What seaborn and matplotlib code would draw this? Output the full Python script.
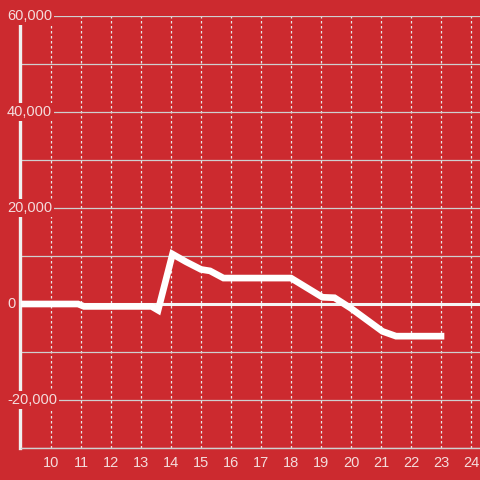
import numpy as np
import pandas as pd
import matplotlib
matplotlib.use('Agg')
import matplotlib.pyplot as plt
from matplotlib.ticker import MultipleLocator, FixedLocator
import seaborn as sns

# 数据
hours = [9.0, 10.9, 11.1, 13.35, 13.57, 14.05, 14.5, 15.0, 15.3, 15.75,
         18.0, 19.05, 19.45, 20.0, 21.05, 21.5, 23.0]
values = [0, 0, -500, -500, -1300, 10400, 8800, 7200, 6900, 5400,
          5400, 1400, 1300, -900, -5700, -6700, -6700]

y_ticks = [-20000, 0, 20000, 40000, 60000]
x_ticks = list(range(10, 25))

bg = '#cc2a2f'
txt = '#f4dcdc'

sns.set_style('white')
plt.rcParams['font.family'] = ['Liberation Sans', 'DejaVu Sans']

df = pd.DataFrame({'hour': hours, 'value': values})

fig = plt.figure(figsize=(4.8, 4.8), dpi=100, facecolor=bg)
ax = fig.add_axes([21 / 480, 32 / 480, 459 / 480, 432 / 480])
ax.set_facecolor(bg)

sns.lineplot(data=df, x='hour', y='value', ax=ax, color='white',
             linewidth=4.8, solid_joinstyle='miter',
             solid_capstyle='projecting', zorder=4)

ax.axhline(0, color='#f5f5f5', lw=2.2, zorder=3)

ax.set_xlim(9, 24.3)
ax.set_ylim(-30000, 60000)

# 横向网格每 10000 一条，竖向虚线每小时
ax.yaxis.set_major_locator(MultipleLocator(10000))
ax.xaxis.set_major_locator(FixedLocator(x_ticks))
ax.grid(axis='y', color='#cfcfcf', lw=0.9, ls='-')
ax.grid(axis='x', color='#e8e8e8', lw=0.9, ls=(0, (2, 2)))
ax.set_yticklabels([])
ax.tick_params(axis='y', length=0)
ax.tick_params(axis='x', length=0, pad=6, labelsize=10.5, labelcolor=txt)
ax.set_xticklabels([str(t) for t in x_ticks])

for s in ['top', 'right']:
    ax.spines[s].set_visible(False)
ax.spines['bottom'].set_color('#d0d0d0')
ax.spines['bottom'].set_linewidth(1.0)
ax.spines['left'].set_color('#f0f0f0')
ax.spines['left'].set_linewidth(2.4)
ax.spines['left'].set_position(('outward', 1))

# y 轴标签压在坐标轴上，带红色底
for t in y_ticks:
    ax.text(-14 / 459, t, f'{t:,}', transform=ax.get_yaxis_transform(),
            ha='left', va='center', fontsize=10.5, color=txt, zorder=6,
            clip_on=False,
            bbox=dict(boxstyle='square,pad=0.15', fc=bg, ec='none'))

ax.set_xlabel('')
ax.set_ylabel('')
fig.savefig('out.png', dpi=100, facecolor=bg)
